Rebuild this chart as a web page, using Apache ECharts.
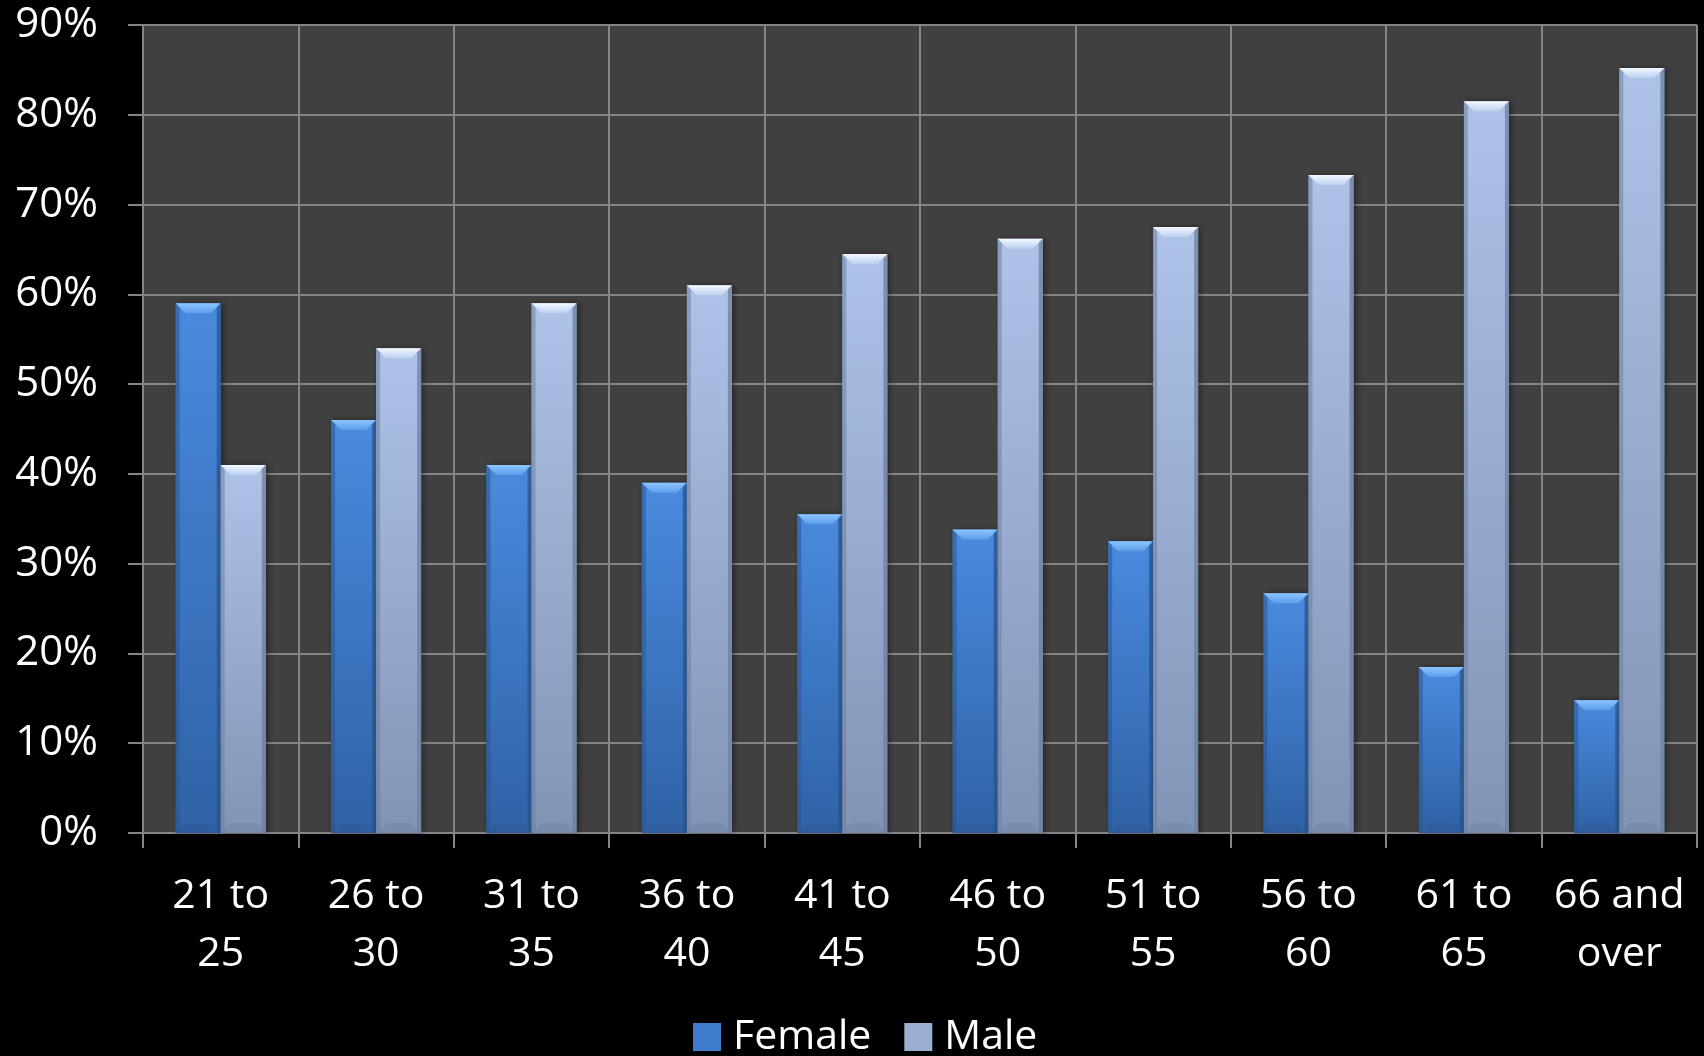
<!DOCTYPE html>
<html>
<head>
<meta charset="utf-8">
<title>Female and Male share by age group</title>
<script src="https://cdn.jsdelivr.net/npm/echarts@6/dist/echarts.min.js"></script>
<style>
  html, body { margin: 0; padding: 0; background: #000; }
  #chart { width: 1704px; height: 1056px; }
</style>
</head>
<body>
<div id="chart"></div>
<script>
// Age groups along the x axis
const categories = ['21 to\n25', '26 to\n30', '31 to\n35', '36 to\n40', '41 to\n45',
                    '46 to\n50', '51 to\n55', '56 to\n60', '61 to\n65', '66 and\nover'];

// Share of each group, in percent
const female = [59, 46, 41, 39, 35.5, 33.8, 32.5, 26.7, 18.5, 14.8];
const male   = [41, 54, 59, 61, 64.5, 66.2, 67.5, 73.3, 81.5, 85.2];

// Y axis ticks
const yMin = 0, yMax = 90, yStep = 10;

const FONT = '"Open Sans", "Noto Sans", sans-serif';

const palette = {
  Female: { top: '#4a8ade', bottom: '#2f62a6', capHi: '#8cc6ff', capLo: '#5d9ceb', edge: '#2a568f' },
  Male:   { top: '#aec3e8', bottom: '#8294b6', capHi: '#f2f8ff', capLo: '#bcd0f0', edge: '#6d7f9e' }
};

// Bevelled column drawn from the axis scales; side = -1 left column, +1 right column
function bevelBar(name, side) {
  const pal = palette[name];
  return function (params, api) {
    const idx = api.value(0);
    const val = api.value(1);
    const top = api.coord([idx, val]);
    const base = api.coord([idx, 0]);
    const catW = api.size([1, 0])[0];
    const w = catW * 0.29;
    const x0 = side < 0 ? top[0] - w : top[0];
    const x1 = x0 + w;
    const y0 = top[1];
    const y1 = base[1];
    const h = y1 - y0;
    const b = Math.min(10, h / 2);
    const s = 4;
    return {
      type: 'group',
      children: [
        {
          type: 'rect',
          shape: { x: x0, y: y0, width: w, height: h },
          style: {
            fill: new echarts.graphic.LinearGradient(0, 0, 0, 1, [
              { offset: 0, color: pal.top },
              { offset: 1, color: pal.bottom }
            ]),
            shadowBlur: 6,
            shadowColor: 'rgba(0,0,0,0.45)',
            shadowOffsetX: 2
          }
        },
        {
          type: 'rect',
          shape: { x: x0, y: y0, width: s, height: h },
          style: { fill: pal.edge, opacity: 0.55 }
        },
        {
          type: 'rect',
          shape: { x: x1 - s, y: y0, width: s, height: h },
          style: { fill: pal.edge, opacity: 0.75 }
        },
        {
          type: 'polygon',
          shape: { points: [[x0, y0], [x1, y0], [x1 - b, y0 + b], [x0 + b, y0 + b]] },
          style: {
            fill: new echarts.graphic.LinearGradient(0, 0, 0, 1, [
              { offset: 0, color: pal.capHi },
              { offset: 1, color: pal.capLo }
            ])
          }
        },
        {
          type: 'polygon',
          shape: { points: [[x0, y1], [x1, y1], [x1 - b, y1 - b], [x0 + b, y1 - b]] },
          style: { fill: pal.edge, opacity: 0.35 }
        }
      ]
    };
  };
}

function seriesData(values) {
  return values.map((v, i) => [i, v]);
}

const chart = echarts.init(document.getElementById('chart'), null, { renderer: 'canvas' });

chart.setOption({
  backgroundColor: '#000000',
  animation: false,
  grid: {
    left: 143, right: 7, top: 25, bottom: 223,
    show: true, backgroundColor: '#404040', borderWidth: 0
  },
  legend: {
    left: 688, top: 1008,
    itemWidth: 28, itemHeight: 28, itemGap: 33,
    icon: 'rect',
    textStyle: { color: '#ffffff', fontSize: 41, fontFamily: FONT, lineHeight: 48, padding: [0, 0, 0, 7] },
    data: [
      { name: 'Female', itemStyle: { color: '#3f7ccc' } },
      { name: 'Male', itemStyle: { color: '#9aaed2' } }
    ]
  },
  xAxis: {
    type: 'category',
    data: categories,
    boundaryGap: true,
    axisLine: { show: true, lineStyle: { color: '#858585', width: 2 } },
    axisTick: { show: true, length: 15, interval: 0, lineStyle: { color: '#858585', width: 2 } },
    splitLine: { show: true, interval: 0, lineStyle: { color: '#858585', width: 2 } },
    axisLabel: {
      color: '#ffffff', fontSize: 41, fontFamily: FONT, lineHeight: 58,
      margin: 34, interval: 0
    }
  },
  yAxis: {
    type: 'value',
    min: yMin, max: yMax, interval: yStep,
    axisLine: { show: true, lineStyle: { color: '#858585', width: 2 } },
    axisTick: { show: true, length: 15, lineStyle: { color: '#858585', width: 2 } },
    splitLine: { show: true, lineStyle: { color: '#858585', width: 2 } },
    axisLabel: {
      color: '#ffffff', fontSize: 42, fontFamily: FONT, margin: 45,
      formatter: '{value}%'
    }
  },
  series: [
    {
      name: 'Female', type: 'custom',
      renderItem: bevelBar('Female', -1),
      encode: { x: 0, y: 1 },
      itemStyle: { color: '#3f7ccc' },
      data: seriesData(female)
    },
    {
      name: 'Male', type: 'custom',
      renderItem: bevelBar('Male', 1),
      encode: { x: 0, y: 1 },
      itemStyle: { color: '#9aaed2' },
      data: seriesData(male)
    }
  ]
});
</script>
</body>
</html>
